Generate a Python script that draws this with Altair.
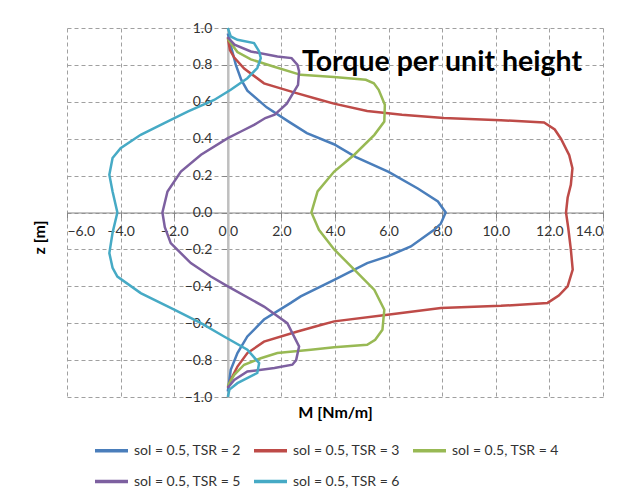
import altair as alt
import pandas as pd

series_names = [
    "sol = 0.5, TSR = 2",
    "sol = 0.5, TSR = 3",
    "sol = 0.5, TSR = 4",
    "sol = 0.5, TSR = 5",
    "sol = 0.5, TSR = 6",
]
series_colors = ["#4A7EBB", "#BE4B48", "#98B954", "#7D60A0", "#46AAC5"]

# TSR = 2 (blue)
z_tsr2 = [0.97, 0.90, 0.80, 0.72, 0.66, 0.57, 0.49, 0.43, 0.37, 0.30, 0.22, 0.13, 0.06, 0.0,
          -0.06, -0.094, -0.184, -0.238, -0.274, -0.365, -0.455, -0.49, -0.58, -0.672, -0.762, -0.853, -0.97]
m_tsr2 = [0.0, 0.12, 0.30, 0.50, 0.73, 1.45, 2.30, 2.95, 3.96, 4.78, 6.0, 7.09, 7.84, 8.13,
          7.95, 7.7, 6.83, 5.96, 5.2, 3.97, 2.72, 2.35, 1.35, 0.73, 0.36, 0.11, 0.0]

# TSR = 3 (red)
z_tsr3 = [0.95, 0.88, 0.84, 0.78, 0.70, 0.65, 0.61, 0.59, 0.55, 0.53, 0.512, 0.50, 0.488, 0.45, 0.40,
          0.31, 0.24, 0.15, 0.08, 0.0,
          -0.08, -0.2, -0.31, -0.40, -0.45, -0.49, -0.506, -0.518, -0.554, -0.59, -0.61, -0.645,
          -0.70, -0.762, -0.835, -0.907, -0.95]
m_tsr3 = [0.0, 0.08, 0.24, 0.61, 1.35, 2.5, 3.47, 3.96, 5.2, 6.5, 8.06, 10.19, 11.8, 12.2, 12.43,
          12.74, 12.86, 12.8, 12.68, 12.62,
          12.7, 12.8, 12.87, 12.68, 12.35, 11.93, 10.19, 7.95, 5.96, 3.97, 3.47, 2.6,
          1.35, 0.73, 0.36, 0.11, 0.0]

# TSR = 4 (green)
z_tsr4 = [0.94, 0.87, 0.83, 0.79, 0.746, 0.734, 0.719, 0.70, 0.665, 0.584, 0.493, 0.421, 0.313,
          0.222, 0.114, 0.0,
          -0.094, -0.2, -0.31, -0.42, -0.527, -0.636, -0.69, -0.717, -0.73, -0.744, -0.762,
          -0.79, -0.825, -0.88, -0.94]
m_tsr4 = [0.0, 0.36, 0.86, 1.73, 2.72, 3.96, 5.15, 5.45, 5.63, 5.86, 5.84, 5.47, 4.72,
          3.97, 3.35, 3.12,
          3.4, 3.97, 4.72, 5.47, 5.84, 5.77, 5.5, 5.2, 3.97, 3.1, 1.85,
          1.23, 0.61, 0.24, 0.0]

# TSR = 5 (purple)
z_tsr5 = [0.95, 0.91, 0.873, 0.845, 0.837, 0.80, 0.764, 0.692, 0.59, 0.53, 0.512, 0.475, 0.439,
          0.403, 0.313, 0.222, 0.114, 0.0,
          -0.08, -0.166, -0.274, -0.347, -0.40, -0.51, -0.60, -0.726, -0.80, -0.825, -0.843,
          -0.862, -0.907, -0.95]
m_tsr5 = [0.0, 0.25, 0.86, 1.85, 2.38, 2.6, 2.66, 2.62, 2.2, 1.75, 1.4, 0.98, 0.49,
          0.0, -1.0, -1.75, -2.25, -2.44,
          -2.35, -2.13, -1.38, -0.63, 0.0, 1.35, 2.22, 2.66, 2.55, 2.41, 1.74,
          0.73, 0.24, 0.0]

# TSR = 6 (cyan)
z_tsr6 = [1.0, 0.954, 0.936, 0.918, 0.873, 0.837, 0.783, 0.728, 0.665, 0.61, 0.547, 0.485, 0.421,
          0.349, 0.295, 0.204, 0.114, 0.0,
          -0.11, -0.22, -0.30, -0.347, -0.437, -0.527, -0.60, -0.672, -0.744, -0.816, -0.87,
          -0.925, -0.96, -1.0]
m_tsr6 = [0.0, 0.11, 0.36, 0.98, 1.17, 1.23, 1.1, 0.73, 0.11, -0.51, -1.5, -2.37, -3.25,
          -4.0, -4.3, -4.42, -4.3, -4.12,
          -4.3, -4.42, -4.3, -4.12, -3.25, -2.0, -1.0, -0.14, 0.73, 1.17, 1.1,
          0.36, 0.06, 0.0]

x_ticks = [-6, -4, -2, 0, 2, 4, 6, 8, 10, 12, 14]
y_ticks = [-1.0, -0.8, -0.6, -0.4, -0.2, 0.0, 0.2, 0.4, 0.6, 0.8, 1.0]

all_z = [z_tsr2, z_tsr3, z_tsr4, z_tsr5, z_tsr6]
all_m = [m_tsr2, m_tsr3, m_tsr4, m_tsr5, m_tsr6]

rows = []
for name, zs, ms in zip(series_names, all_z, all_m):
    for i, (z, m) in enumerate(zip(zs, ms)):
        rows.append({"series": name, "z": z, "M": m, "idx": i})
df = pd.DataFrame(rows)

W, H = 536, 369
x_off = -(0 - (-6)) / 20 * W  # y axis sits at M = 0
y_off = -H / 2                # x axis sits at z = 0

chart = alt.Chart(df).mark_line(strokeWidth=2.5).encode(
    x=alt.X(
        "M:Q",
        scale=alt.Scale(domain=[-6, 14], nice=False, zero=False),
        axis=alt.Axis(
            values=x_ticks, format=".1f", offset=y_off,
            title="M [Nm/m]", titleX=268, titleY=200, titleBaseline="middle",
            titleFont="Lato", titleFontSize=16, titleFontWeight="bold", titleColor="#000",
            labelFont="Lato", labelFontSize=14, labelColor="#333", labelPadding=7,
            domainColor="#868686", domainWidth=1, tickColor="#868686", tickSize=5,
            grid=True, gridDash=[4, 3], gridColor="#a0a0a0", gridWidth=1,
        ),
    ),
    y=alt.Y(
        "z:Q",
        scale=alt.Scale(domain=[-1, 1], nice=False, zero=False),
        axis=alt.Axis(
            values=y_ticks, format=".1f", offset=x_off,
            title="z [m]", titleX=-188, titleY=209, titleAngle=270, titleBaseline="middle",
            titleAlign="center",
            titleFont="Lato", titleFontSize=16, titleFontWeight="bold", titleColor="#000",
            labelFont="Lato", labelFontSize=14, labelColor="#333", labelPadding=10,
            domainColor="#bfbfbf", domainWidth=2.5, tickColor="#868686", tickSize=6,
            grid=True, gridDash=[4, 3], gridColor="#a0a0a0", gridWidth=1,
        ),
    ),
    color=alt.Color(
        "series:N",
        scale=alt.Scale(domain=series_names, range=series_colors),
        legend=alt.Legend(
            title=None, orient="none", legendX=26, legendY=404,
            direction="horizontal", columns=3,
            symbolType="stroke", symbolSize=1089, symbolStrokeWidth=3.5,
            labelFont="Lato", labelFontSize=14, labelColor="#333",
            columnPadding=6, rowPadding=5, labelOffset=4,
        ),
    ),
    order=alt.Order("idx:Q"),
).properties(
    width=W,
    height=H,
    title=alt.TitleParams(
        "Torque per unit height", anchor="end", frame="group",
        font="Lato", fontSize=28.5, fontWeight="bold", color="#000",
        offset=0, dx=-21, dy=78, baseline="alphabetic",
    ),
    padding={"left": 59, "top": 20, "right": 26, "bottom": 100},
    autosize=alt.AutoSizeParams(type="none"),
).configure_view(stroke=None)

chart.save("out.html", embed_options={"renderer": "svg", "actions": False})
